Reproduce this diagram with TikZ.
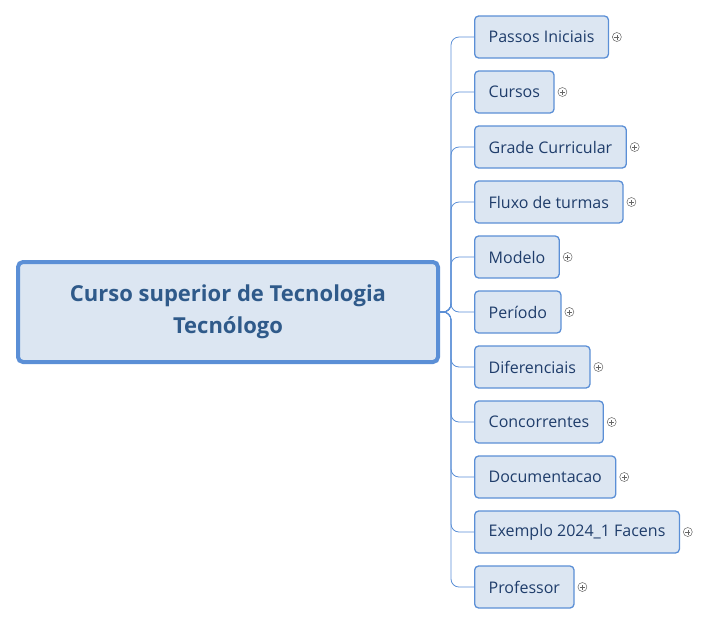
\documentclass[tikz,border=0pt]{standalone}
\usepackage{fontspec}
\setmainfont{Open Sans}
\usetikzlibrary{positioning}
\definecolor{boxfill}{HTML}{DCE6F2}
\definecolor{boxline}{HTML}{5B8FD6}
\definecolor{boxtext}{HTML}{1F3D6B}
\definecolor{roottext}{HTML}{2F5A8A}
\begin{document}
\begin{tikzpicture}[x=1pt,y=-1pt,
    root/.style={draw=boxline, line width=4pt, rounded corners=5pt, fill=boxfill,
      minimum width=420pt, minimum height=100pt, align=center,
      font=\fontsize{22}{32}\selectfont\bfseries, text=roottext},
    topic/.style={draw=boxline, line width=1.3pt, rounded corners=4pt, fill=boxfill,
      minimum height=42pt, inner xsep=14pt, anchor=west,
      font=\fontsize{16}{18}\selectfont, text=boxtext},
    branch/.style={draw=boxline, line width=0.8pt, rounded corners=8pt},
    plus/.style={draw=gray!80!black, line width=0.5pt, circle, inner sep=0pt, minimum size=9pt,
      fill=white, right=3pt of #1.east}
]
\useasboundingbox (0,0) rectangle (720,625);

% Central topic
\node[root] (root) at (228,312) {Curso superior de Tecnologia\\Tecnólogo};

% Subtopics
\foreach \name/\label [count=\i from 0] in {
    passos/Passos Iniciais, cursos/Cursos, grade/Grade Curricular,
    fluxo/Fluxo de turmas, modelo/Modelo, periodo/Período,
    diferenciais/Diferenciais, concorrentes/Concorrentes,
    documentacao/Documentacao, exemplo/Exemplo 2024\_1 Facens,
    professor/Professor} {
  \node[topic] (\name) at (474,37+55*\i) {\label};
  \node[plus=\name] (\name plus) {};
  \draw[line width=0.5pt, gray!80!black] ([xshift=-2.5pt]\name plus.center) -- ([xshift=2.5pt]\name plus.center)
    ([yshift=-2.5pt]\name plus.center) -- ([yshift=2.5pt]\name plus.center);
  \draw[branch] (root.east) -- ++(11,0) |- (\name.west);
}

\end{tikzpicture}
\end{document}
